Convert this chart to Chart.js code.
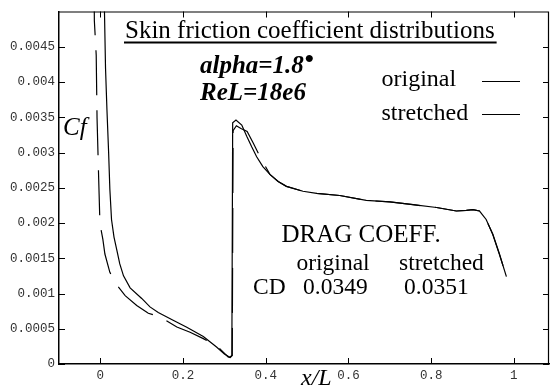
<!DOCTYPE html>
<html>
<head>
<meta charset="utf-8">
<script src="https://cdn.jsdelivr.net/npm/chart.js@4.4.1/dist/chart.umd.min.js"></script>
<style>
  html, body { margin: 0; padding: 0; background: #fff; }
  canvas { display: block; }
</style>
</head>
<body>
<canvas id="cf-chart" width="550" height="386"></canvas>
<script>
// Skin friction distributions, original vs stretched grid

const X_TICKS = [0, 0.2, 0.4, 0.6, 0.8, 1];
const Y_TICKS = [0, 0.0005, 0.001, 0.0015, 0.002, 0.0025, 0.003, 0.0035, 0.004, 0.0045];

const ORIG_X = [
    0.009, 0.0125, 0.016, 0.020, 0.023, 0.027, 0.033, 0.040, 0.047, 0.056,
    0.072, 0.100, 0.120, 0.140, 0.176, 0.209, 0.249, 0.281, 0.300, 0.313,
    0.318, 0.320, 0.328, 0.342, 0.354, 0.366, 0.378, 0.393, 0.410, 0.430,
    0.450, 0.490, 0.523, 0.579, 0.643, 0.700, 0.756, 0.813, 0.861, 0.885,
    0.901, 0.917, 0.933, 0.949, 0.965, 0.982
];
const ORIG_CF = [
    0.0053, 0.0042, 0.0036, 0.0030, 0.00248, 0.00205, 0.00180, 0.00161, 0.00142, 0.00125,
    0.00108, 0.00093, 0.00081, 0.00073, 0.00062, 0.00052, 0.00039, 0.00024, 0.00014, 0.000095,
    0.00012, 0.00342, 0.00346, 0.00339, 0.00323, 0.00308, 0.00294, 0.00280, 0.00269, 0.00259,
    0.00252, 0.00245, 0.00242, 0.00239, 0.00232, 0.00230, 0.00226, 0.00222, 0.00217, 0.00218,
    0.00219, 0.00217, 0.00205, 0.00184, 0.00156, 0.00124
];

const STR_X = [
    -0.015, -0.0145, -0.010, -0.008, -0.004, -0.003, -0.001, 0.006, 0.011, 0.023,
    0.040, 0.060, 0.088, 0.116, 0.144, 0.185, 0.217, 0.249, 0.285, 0.309,
    0.314, 0.319, 0.321, 0.329, 0.340, 0.355, 0.370, 0.386, 0.410, 0.430,
    0.450, 0.490, 0.523, 0.579, 0.643, 0.700, 0.756, 0.813, 0.861, 0.885,
    0.901, 0.917, 0.933, 0.949, 0.965, 0.982
];
const STR_CF = [
    0.0053, 0.00487, 0.00438, 0.00349, 0.00262, 0.00241, 0.00199, 0.00177, 0.00156, 0.00130,
    0.00112, 0.00097, 0.00083, 0.00072, 0.00067, 0.000525, 0.00045, 0.00036, 0.00024, 0.00010,
    0.00009, 0.00012, 0.00331, 0.00338, 0.00334, 0.00330, 0.00313, 0.00294, 0.00269, 0.00259,
    0.00252, 0.00245, 0.00242, 0.00239, 0.00232, 0.00230, 0.00226, 0.00222, 0.00217, 0.00218,
    0.00219, 0.00217, 0.00205, 0.00184, 0.00156, 0.00124
];

const CD_ORIG = '0.0349';
const CD_STR = '0.0351';

const SERIF = '"Liberation Serif", "Times New Roman", serif';
const MONO = '"Liberation Mono", "DejaVu Sans Mono", monospace';

function toPoints(xs, ys) {
    return xs.map((x, i) => ({ x, y: ys[i] }));
}

function fixTicks(values) {
    return scale => { scale.ticks = values.map(value => ({ value })); };
}

// frame, inward ticks and the text blocks
const framePlugin = {
    id: 'frame',
    afterDraw(chart) {
        const { ctx, chartArea: a, scales } = chart;
        ctx.save();
        ctx.strokeStyle = '#000';
        ctx.lineWidth = 1.2;
        ctx.beginPath();
        ctx.moveTo(a.left, a.top + 0.5);
        ctx.lineTo(a.right, a.top + 0.5);
        ctx.moveTo(a.right - 0.5, a.top);
        ctx.lineTo(a.right - 0.5, a.bottom);
        ctx.stroke();

        ctx.lineWidth = 1;
        ctx.beginPath();
        X_TICKS.forEach(v => {
            const px = Math.round(scales.x.getPixelForValue(v)) + 0.5;
            ctx.moveTo(px, a.bottom);
            ctx.lineTo(px, a.bottom - 6);
            ctx.moveTo(px, a.top);
            ctx.lineTo(px, a.top + 6);
        });
        Y_TICKS.forEach(v => {
            const py = Math.round(scales.y.getPixelForValue(v)) + 0.5;
            ctx.moveTo(a.left, py);
            ctx.lineTo(a.left + 6, py);
            ctx.moveTo(a.right, py);
            ctx.lineTo(a.right - 6, py);
        });
        ctx.stroke();

        ctx.fillStyle = '#000';
        ctx.textBaseline = 'alphabetic';
        ctx.textAlign = 'left';

        // title with underline
        ctx.font = `25px ${SERIF}`;
        const title = 'Skin friction coefficient distributions';
        ctx.fillText(title, 125, 37.5);
        const tw = ctx.measureText(title).width;
        ctx.fillRect(124, 41.5, tw + 3, 2);

        ctx.font = `italic bold 25px ${SERIF}`;
        ctx.fillText('alpha=1.8', 200, 72.5);
        const aw = ctx.measureText('alpha=1.8').width;
        ctx.font = `bold 26px ${SERIF}`;
        ctx.fillText('\u2022', 200 + aw + 1, 67);
        ctx.font = `italic bold 25px ${SERIF}`;
        ctx.fillText('ReL=18e6', 200, 100);

        // legend
        ctx.font = `24px ${SERIF}`;
        ctx.fillText('original', 381.5, 86);
        ctx.fillText('stretched', 381.5, 119.5);
        ctx.lineWidth = 1.2;
        ctx.beginPath();
        ctx.moveTo(482, 81.5);
        ctx.lineTo(520, 81.5);
        ctx.moveTo(482, 114.5);
        ctx.lineTo(520, 114.5);
        ctx.stroke();

        // axis titles
        ctx.font = `italic 25px ${SERIF}`;
        ctx.fillText('Cf', 63, 135);
        ctx.font = `italic 24px ${SERIF}`;
        ctx.fillText('x/L', 301, 385);

        // drag coefficient block
        ctx.font = `25px ${SERIF}`;
        ctx.fillText('DRAG COEFF.', 281.5, 241.5);
        ctx.font = `23.5px ${SERIF}`;
        ctx.fillText('original', 296.5, 270);
        ctx.fillText('stretched', 399, 269.5);
        ctx.fillText('CD', 253, 293.5);
        ctx.fillText(CD_ORIG, 303, 293.5);
        ctx.fillText(CD_STR, 404, 293.5);
        ctx.restore();
    }
};

new Chart(document.getElementById('cf-chart'), {
    type: 'line',
    data: {
        datasets: [
            {
                label: 'original',
                data: toPoints(ORIG_X, ORIG_CF),
                borderColor: '#000',
                borderWidth: 1.2,
                pointRadius: 0,
                tension: 0
            },
            {
                label: 'stretched',
                data: toPoints(STR_X, STR_CF),
                borderColor: '#000',
                borderWidth: 1.2,
                borderDash: [45, 15],
                pointRadius: 0,
                tension: 0
            }
        ]
    },
    options: {
        responsive: false,
        animation: false,
        layout: { padding: { top: 8, right: 1, left: 0, bottom: 0 } },
        plugins: {
            legend: { display: false },
            tooltip: { enabled: false }
        },
        scales: {
            x: {
                type: 'linear',
                min: -0.1,
                max: 1.085,
                afterBuildTicks: fixTicks(X_TICKS),
                afterFit: s => { s.height = 22; },
                grid: { display: false, drawTicks: false },
                border: { display: true, color: '#000', width: 1.5 },
                ticks: {
                    padding: 4,
                    maxRotation: 0,
                    autoSkip: false,
                    color: '#333',
                    font: { family: MONO, size: 12.5 },
                    callback: v => String(+v.toFixed(4))
                }
            },
            y: {
                type: 'linear',
                min: 0,
                max: 0.005,
                afterBuildTicks: fixTicks(Y_TICKS),
                afterFit: s => { s.width = 59; },
                grid: { display: false, drawTicks: false },
                border: { display: true, color: '#000', width: 1.5 },
                ticks: {
                    padding: 4,
                    autoSkip: false,
                    color: '#333',
                    font: { family: MONO, size: 12.5 },
                    callback: v => String(+v.toFixed(4))
                }
            }
        }
    },
    plugins: [framePlugin]
});
</script>
</body>
</html>
